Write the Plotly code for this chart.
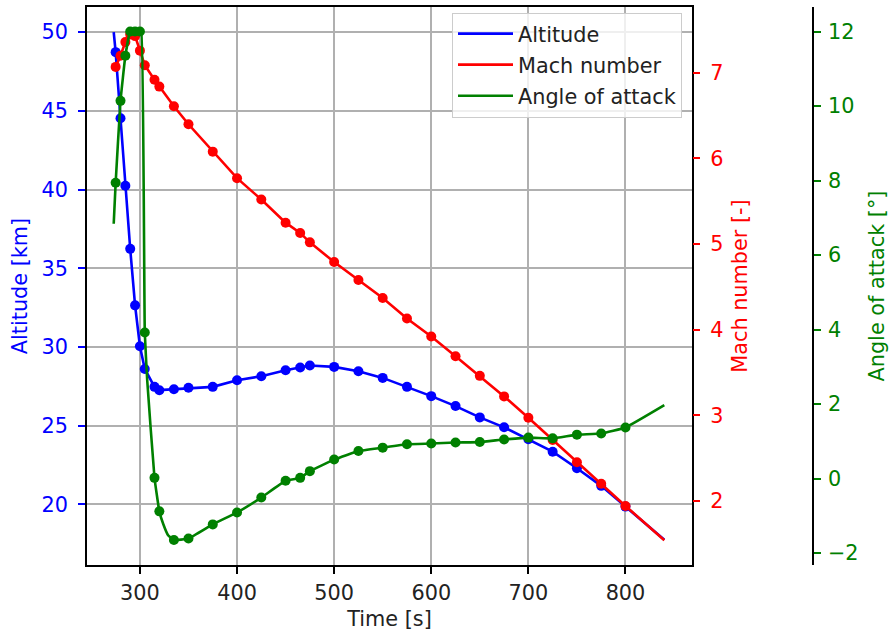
import plotly.graph_objects as go

# ---- data ----
time_markers = [275, 280, 285, 290, 295, 300, 305, 315, 320, 335, 350, 375, 400, 425, 450,
                465, 475, 500, 525, 550, 575, 600, 625, 650, 675, 700, 725, 750, 775, 800]
altitude_markers = [48.73, 44.53, 40.24, 36.23, 32.64, 30.04, 28.60, 27.46, 27.25, 27.31,
                    27.40, 27.46, 27.88, 28.14, 28.52, 28.69, 28.82, 28.73, 28.45, 28.03,
                    27.46, 26.87, 26.24, 25.52, 24.89, 24.13, 23.34, 22.29, 21.17, 19.85]
mach_markers = [7.07, 7.20, 7.36, 7.45, 7.43, 7.26, 7.09, 6.92, 6.84, 6.61, 6.40, 6.08,
                5.77, 5.52, 5.25, 5.13, 5.02, 4.79, 4.58, 4.37, 4.13, 3.92, 3.69, 3.46,
                3.22, 2.97, 2.71, 2.45, 2.20, 1.94]
aoa_markers = [7.94, 10.14, 11.35, 12.0, 12.0, 12.0, 3.92, 0.02, -0.88, -1.65, -1.61, -1.23,
               -0.91, -0.51, -0.06, 0.02, 0.20, 0.51, 0.74, 0.83, 0.92, 0.94, 0.97, 0.98,
               1.05, 1.10, 1.08, 1.18, 1.21, 1.37]

# line start / end values (lines run beyond the marked samples)
time_start, time_end = 273, 840
altitude_start, altitude_end = 50.0, 17.74
mach_start, mach_end = 7.03, 1.54
aoa_start, aoa_end = 6.84, 1.97
# extra points on the angle-of-attack line (sharp drop and curved bottom)
aoa_extra_time = [301.5, 307.5, 324, 329]
aoa_extra_value = [12.0, 2.64, -1.22, -1.52]

x_ticks = [300, 400, 500, 600, 700, 800]
alt_ticks = [20, 25, 30, 35, 40, 45, 50]
mach_ticks = [2, 3, 4, 5, 6, 7]
aoa_ticks = [-2, 0, 2, 4, 6, 8, 10, 12]

# ---- build line series ----
t_line = [time_start] + time_markers + [time_end]
alt_line = [altitude_start] + altitude_markers + [altitude_end]
mach_line = [mach_start] + mach_markers + [mach_end]
aoa_pairs = sorted(zip([time_start] + time_markers + aoa_extra_time + [time_end],
                       [aoa_start] + aoa_markers + aoa_extra_value + [aoa_end]))
t_aoa_line = [p[0] for p in aoa_pairs]
aoa_line = [p[1] for p in aoa_pairs]

BLUE, RED, GREEN = "#0000ff", "#ff0000", "#008000"
FONT = "DejaVu Sans"
FS = 20.8
LW = 2.6
MS = 10

fig = go.Figure()
fig.add_trace(go.Scatter(x=t_line, y=alt_line, mode="lines", name="Altitude",
                         line=dict(color=BLUE, width=LW), legendgroup="a", yaxis="y"))
fig.add_trace(go.Scatter(x=time_markers, y=altitude_markers, mode="markers", showlegend=False,
                         marker=dict(color=BLUE, size=MS), legendgroup="a", yaxis="y"))
fig.add_trace(go.Scatter(x=t_line, y=mach_line, mode="lines", name="Mach number",
                         line=dict(color=RED, width=LW), legendgroup="b", yaxis="y2"))
fig.add_trace(go.Scatter(x=time_markers, y=mach_markers, mode="markers", showlegend=False,
                         marker=dict(color=RED, size=MS), legendgroup="b", yaxis="y2"))
fig.add_trace(go.Scatter(x=t_aoa_line, y=aoa_line, mode="lines", name="Angle of attack",
                         line=dict(color=GREEN, width=LW, shape="spline", smoothing=0.3),
                         legendgroup="c", yaxis="y3"))
fig.add_trace(go.Scatter(x=time_markers, y=aoa_markers, mode="markers", showlegend=False,
                         marker=dict(color=GREEN, size=MS), legendgroup="c", yaxis="y3"))

W, H = 889, 631
L, R, T, B = 87, 76, 7, 66
plot_right = 692
xdom_end = (plot_right - L) / (W - L - R)

common_tick = dict(ticks="outside", ticklen=7, tickwidth=1.6, zeroline=False)

fig.update_layout(
    width=W, height=H,
    margin=dict(l=L, r=R, t=T, b=B, autoexpand=False),
    plot_bgcolor="white", paper_bgcolor="white",
    font=dict(family=FONT, size=FS, color="black"),
    showlegend=True,
    legend=dict(x=(682 - L) / (W - L - R), xanchor="right", y=0.99, yanchor="top",
                bgcolor="rgba(255,255,255,0.8)", bordercolor="#cccccc", borderwidth=1,
                font=dict(family=FONT, size=FS, color="#222222"),
                traceorder="grouped", tracegroupgap=1, itemwidth=55),
    xaxis=dict(domain=[0, xdom_end], range=[245.5, 868.5], tickvals=x_ticks,
               showgrid=True, gridcolor="#b0b0b0", gridwidth=1.5,
               showline=True, linecolor="black", linewidth=1.5, mirror=True,
               tickcolor="black", tickfont=dict(color="#222222", size=FS),
               ticklabelstandoff=1,
               title=dict(text="Time [s]", standoff=8,
                          font=dict(color="#222222", size=FS)),
               **common_tick),
    yaxis=dict(range=[16.14, 51.6], tickvals=alt_ticks,
               showgrid=True, gridcolor="#b0b0b0", gridwidth=1.5,
               showline=True, linecolor="black", linewidth=1.5, mirror=True,
               tickcolor=BLUE, tickfont=dict(color=BLUE, size=FS),
               ticklabelstandoff=6,
               title=dict(text="Altitude [km]", standoff=8,
                          font=dict(color=BLUE, size=FS)),
               **common_tick),
    yaxis2=dict(overlaying="y", side="right", anchor="x", range=[1.25, 7.77],
                tickvals=mach_ticks, showgrid=False, showline=False,
                tickcolor=RED, tickfont=dict(color=RED, size=FS),
                ticklabelstandoff=6,
                title=dict(text="Mach number [-]", standoff=10,
                           font=dict(color=RED, size=FS)),
                **common_tick),
    yaxis3=dict(overlaying="y", side="right", anchor="free", position=1.0,
                range=[-2.32, 12.66], tickvals=aoa_ticks, showgrid=False,
                showline=True, linecolor="black", linewidth=1.5,
                tickcolor=GREEN, tickfont=dict(color=GREEN, size=FS),
                ticklabelstandoff=3,
                title=dict(text="Angle of attack [°]", standoff=11,
                           font=dict(color=GREEN, size=FS)),
                **common_tick),
)

fig.write_html("out.html")
